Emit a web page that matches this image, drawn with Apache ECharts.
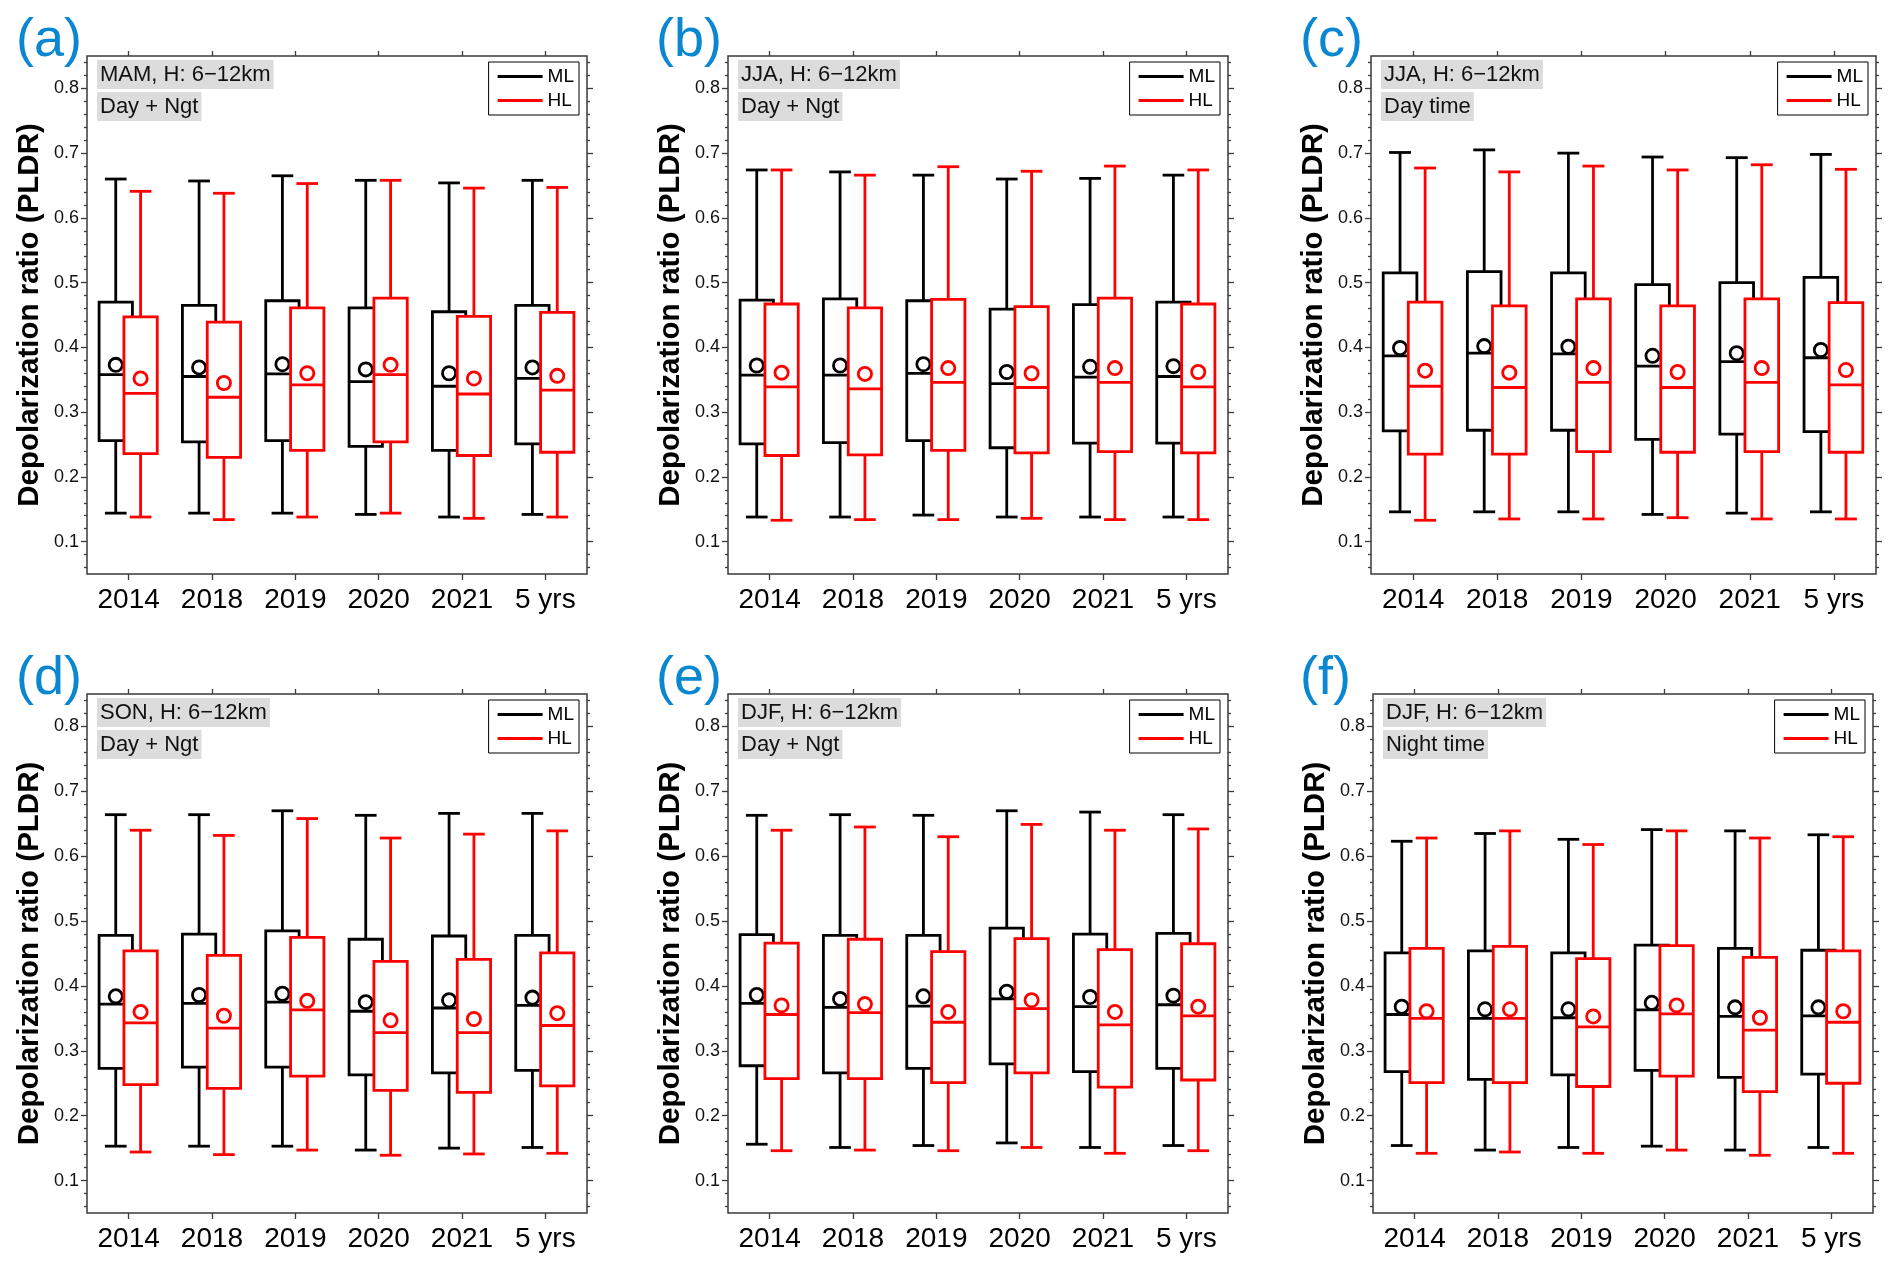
<!DOCTYPE html>
<html><head><meta charset="utf-8">
<script src="https://cdn.jsdelivr.net/npm/echarts@6/dist/echarts.min.js"></script>
<style>html,body{margin:0;padding:0;background:#fff}#chart{width:1892px;height:1270px}</style>
</head><body><div id="chart"></div>
<script>
const categories = ['2014', '2018', '2019', '2020', '2021', '5 yrs'];
const yTickLabels = [0.1, 0.2, 0.3, 0.4, 0.5, 0.6, 0.7, 0.8];
// each row: [min, q1, median, q3, max, mean]
const a_ML = [[0.144,0.256,0.358,0.470,0.660,0.373],[0.144,0.254,0.355,0.465,0.657,0.369],[0.144,0.256,0.359,0.472,0.665,0.374],[0.142,0.247,0.347,0.461,0.658,0.366],[0.138,0.241,0.340,0.455,0.654,0.360],[0.142,0.251,0.352,0.465,0.658,0.369]];
const a_HL = [[0.138,0.236,0.329,0.447,0.641,0.352],[0.134,0.230,0.323,0.439,0.638,0.345],[0.138,0.241,0.342,0.461,0.653,0.360],[0.144,0.254,0.358,0.476,0.658,0.373],[0.136,0.233,0.328,0.448,0.646,0.352],[0.138,0.238,0.334,0.454,0.647,0.356]];
const b_ML = [[0.138,0.251,0.357,0.473,0.674,0.372],[0.138,0.253,0.357,0.475,0.671,0.372],[0.141,0.256,0.360,0.472,0.666,0.374],[0.138,0.245,0.344,0.459,0.660,0.362],[0.138,0.252,0.354,0.466,0.661,0.370],[0.138,0.252,0.355,0.470,0.666,0.371]];
const b_HL = [[0.133,0.233,0.339,0.467,0.674,0.361],[0.134,0.234,0.336,0.461,0.666,0.359],[0.134,0.241,0.346,0.474,0.679,0.368],[0.136,0.237,0.338,0.463,0.672,0.360],[0.134,0.239,0.346,0.476,0.680,0.368],[0.134,0.237,0.339,0.467,0.674,0.362]];
const c_ML = [[0.146,0.271,0.387,0.515,0.701,0.399],[0.146,0.272,0.391,0.517,0.705,0.402],[0.146,0.272,0.390,0.515,0.700,0.401],[0.142,0.258,0.371,0.497,0.694,0.387],[0.144,0.266,0.378,0.500,0.693,0.391],[0.146,0.270,0.384,0.508,0.698,0.396]];
const c_HL = [[0.133,0.235,0.340,0.470,0.677,0.364],[0.135,0.235,0.338,0.464,0.671,0.361],[0.135,0.239,0.346,0.475,0.680,0.368],[0.137,0.238,0.338,0.464,0.674,0.362],[0.135,0.239,0.346,0.475,0.682,0.368],[0.135,0.238,0.342,0.469,0.675,0.365]];
const d_ML = [[0.153,0.273,0.372,0.478,0.664,0.384],[0.153,0.275,0.373,0.480,0.664,0.386],[0.153,0.275,0.375,0.485,0.670,0.388],[0.147,0.263,0.361,0.472,0.663,0.375],[0.150,0.266,0.366,0.477,0.666,0.378],[0.151,0.270,0.370,0.478,0.666,0.382]];
const d_HL = [[0.144,0.248,0.343,0.454,0.640,0.360],[0.140,0.242,0.335,0.447,0.632,0.354],[0.147,0.261,0.363,0.475,0.658,0.377],[0.139,0.239,0.328,0.438,0.628,0.347],[0.141,0.236,0.328,0.441,0.634,0.349],[0.142,0.246,0.339,0.451,0.639,0.358]];
const e_ML = [[0.156,0.277,0.373,0.479,0.663,0.386],[0.151,0.266,0.367,0.478,0.664,0.380],[0.154,0.273,0.369,0.478,0.663,0.384],[0.158,0.280,0.380,0.489,0.670,0.391],[0.151,0.268,0.368,0.480,0.668,0.383],[0.154,0.273,0.371,0.481,0.664,0.385]];
const e_HL = [[0.146,0.257,0.356,0.466,0.640,0.370],[0.147,0.257,0.359,0.472,0.645,0.372],[0.146,0.251,0.344,0.453,0.630,0.360],[0.151,0.266,0.365,0.473,0.649,0.378],[0.142,0.244,0.340,0.456,0.640,0.360],[0.146,0.255,0.354,0.465,0.642,0.368]];
const f_ML = [[0.154,0.268,0.356,0.451,0.623,0.368],[0.147,0.256,0.350,0.454,0.635,0.364],[0.151,0.263,0.351,0.451,0.626,0.364],[0.153,0.270,0.363,0.463,0.641,0.374],[0.147,0.259,0.353,0.458,0.639,0.367],[0.151,0.264,0.354,0.455,0.633,0.367]];
const f_HL = [[0.142,0.251,0.350,0.458,0.628,0.361],[0.144,0.251,0.350,0.461,0.639,0.364],[0.142,0.245,0.337,0.442,0.618,0.353],[0.147,0.261,0.357,0.462,0.639,0.370],[0.139,0.237,0.332,0.444,0.628,0.351],[0.142,0.250,0.344,0.454,0.630,0.361]];

const panelLabels = ['(a)', '(b)', '(c)', '(d)', '(e)', '(f)'];
const line1Texts = ['MAM, H: 6\u221212km', 'JJA, H: 6\u221212km', 'JJA, H: 6\u221212km', 'SON, H: 6\u221212km', 'DJF, H: 6\u221212km', 'DJF, H: 6\u221212km'];
const line2Texts = ['Day + Ngt', 'Day + Ngt', 'Day time', 'Day + Ngt', 'Day + Ngt', 'Night time'];
const mlData = [a_ML, b_ML, c_ML, d_ML, e_ML, f_ML];
const hlData = [a_HL, b_HL, c_HL, d_HL, e_HL, f_HL];

// layout (pixels)
const gridBoxes = [
  {left: 87, top: 56, width: 500, height: 518},
  {left: 728, top: 56, width: 500, height: 518},
  {left: 1371, top: 56, width: 505, height: 518},
  {left: 87, top: 694, width: 500, height: 519},
  {left: 728, top: 694, width: 500, height: 519},
  {left: 1373, top: 694, width: 500, height: 519}
];
const FONT = '"Liberation Sans", Arial, Helvetica, sans-serif';
const ML_COLOR = '#000000', HL_COLOR = '#ff0000';

const minorTicks = [];
for (let k = 3; k <= 42; k++) { if (k % 5 !== 0) minorTicks.push(+(k * 0.02).toFixed(2)); }

function boxRenderer(offsetFrac, color) {
  return function (params, api) {
    const x = api.value(0);
    const bw = api.size([1, 0])[0];
    const pMin = api.coord([x, api.value(1)]);
    const cx = pMin[0] + offsetFrac * bw;
    const yMin = pMin[1];
    const yQ1 = api.coord([x, api.value(2)])[1];
    const yMed = api.coord([x, api.value(3)])[1];
    const yQ3 = api.coord([x, api.value(4)])[1];
    const yMax = api.coord([x, api.value(5)])[1];
    const yMean = api.coord([x, api.value(6)])[1];
    const hw = 0.2 * bw, cw = 0.13 * bw;
    const lw = 2.8;
    const st = {stroke: color, lineWidth: lw};
    return {type: 'group', children: [
      {type: 'line', shape: {x1: cx, y1: yQ3, x2: cx, y2: yMax}, style: st},
      {type: 'line', shape: {x1: cx - cw, y1: yMax, x2: cx + cw, y2: yMax}, style: st},
      {type: 'line', shape: {x1: cx, y1: yQ1, x2: cx, y2: yMin}, style: st},
      {type: 'line', shape: {x1: cx - cw, y1: yMin, x2: cx + cw, y2: yMin}, style: st},
      {type: 'rect', shape: {x: cx - hw, y: yQ3, width: 2 * hw, height: yQ1 - yQ3}, style: {stroke: color, lineWidth: lw, fill: '#ffffff'}},
      {type: 'line', shape: {x1: cx - hw, y1: yMed, x2: cx + hw, y2: yMed}, style: st},
      {type: 'circle', shape: {cx: cx, cy: yMean, r: 6.6}, style: {stroke: color, lineWidth: lw, fill: 'rgba(0,0,0,0)'}}
    ]};
  };
}

const grid = [], xAxis = [], yAxis = [], series = [], title = [], legend = [];
gridBoxes.forEach((g, i) => {
  grid.push(Object.assign({show: true, borderColor: '#3a3a3a', borderWidth: 1.5, backgroundColor: 'transparent', containLabel: false, outerBoundsMode: 'none'}, g));
  const tickStyle = {color: '#3a3a3a', width: 1.3};
  xAxis.push({type: 'category', gridIndex: i, position: 'bottom', data: categories, boundaryGap: true,
    axisLine: {show: false}, axisTick: {show: true, alignWithLabel: true, length: 6, lineStyle: tickStyle},
    axisLabel: {fontSize: 28, color: '#000', margin: 12, fontFamily: FONT}, splitLine: {show: false}});
  xAxis.push({type: 'category', gridIndex: i, position: 'top', data: categories, boundaryGap: true,
    axisLine: {show: false}, axisTick: {show: true, alignWithLabel: true, length: 5, lineStyle: tickStyle},
    axisLabel: {show: false}, splitLine: {show: false}});
  const base = {type: 'value', gridIndex: i, min: 0.05, max: 0.85, axisLine: {show: false}, splitLine: {show: false}};
  yAxis.push(Object.assign({}, base, {position: 'left',
    axisTick: {show: true, length: 6, customValues: yTickLabels, lineStyle: tickStyle},
    axisLabel: {show: true, customValues: yTickLabels, formatter: v => v.toFixed(1), fontSize: 18, color: '#111', margin: 8, fontFamily: FONT},
    name: 'Depolarization ratio (PLDR)', nameLocation: 'middle', nameGap: 42, nameRotate: 90,
    nameTextStyle: {fontSize: 29.5, fontWeight: 'bold', color: '#000', fontFamily: FONT}}));
  yAxis.push(Object.assign({}, base, {position: 'left',
    axisTick: {show: true, length: 3, customValues: minorTicks, lineStyle: tickStyle},
    axisLabel: {show: false, customValues: minorTicks}}));
  yAxis.push(Object.assign({}, base, {position: 'right',
    axisTick: {show: true, length: 6, customValues: yTickLabels, lineStyle: tickStyle},
    axisLabel: {show: false, customValues: yTickLabels}}));
  yAxis.push(Object.assign({}, base, {position: 'right',
    axisTick: {show: true, length: 3, customValues: minorTicks, lineStyle: tickStyle},
    axisLabel: {show: false, customValues: minorTicks}}));

  series.push({type: 'custom', name: 'ML', xAxisIndex: 2 * i, yAxisIndex: 4 * i, itemStyle: {color: ML_COLOR},
    renderItem: boxRenderer(-0.155, ML_COLOR), encode: {x: 0, y: [1, 2, 3, 4, 5, 6]},
    data: mlData[i].map((r, k) => [k].concat(r)), z: 2, silent: true});
  series.push({type: 'custom', name: 'HL', xAxisIndex: 2 * i, yAxisIndex: 4 * i, itemStyle: {color: HL_COLOR},
    renderItem: boxRenderer(0.143, HL_COLOR), encode: {x: 0, y: [1, 2, 3, 4, 5, 6]},
    data: hlData[i].map((r, k) => [k].concat(r)), z: 3, silent: true});

  const col = i % 3;
  const labelLeft = [16, 656, 1300][col];
  title.push({text: panelLabels[i], left: labelLeft, top: g.top - 42, padding: 0,
    textStyle: {fontSize: 54, fontWeight: 'normal', color: '#0a87d1', fontFamily: FONT}});
  title.push({text: line1Texts[i], left: g.left + 10, top: g.top + 4, padding: [3, 3, 3, 3], backgroundColor: '#dcdcdc',
    textStyle: {fontSize: 22, fontWeight: 'normal', color: '#111', lineHeight: 23, fontFamily: FONT}});
  title.push({text: line2Texts[i], left: g.left + 10, top: g.top + 36, padding: [3, 3, 3, 3], backgroundColor: '#dcdcdc',
    textStyle: {fontSize: 22, fontWeight: 'normal', color: '#111', lineHeight: 23, fontFamily: FONT}});

  legend.push({orient: 'vertical', right: 1892 - (g.left + g.width - 8), top: g.top + 6,
    data: [{name: 'ML', itemStyle: {color: ML_COLOR}}, {name: 'HL', itemStyle: {color: HL_COLOR}}],
    icon: 'rect', itemWidth: 45, itemHeight: 3, itemGap: 5, selectedMode: false,
    borderColor: '#000', borderWidth: 1, padding: [5, 5, 5, 9], backgroundColor: '#fff',
    textStyle: {fontSize: 19, color: '#000', fontFamily: FONT}});
});

const chart = echarts.init(document.getElementById('chart'), null, {renderer: 'canvas'});
chart.setOption({animation: false, backgroundColor: '#fff', grid, xAxis, yAxis, series, title, legend});
</script></body></html>
